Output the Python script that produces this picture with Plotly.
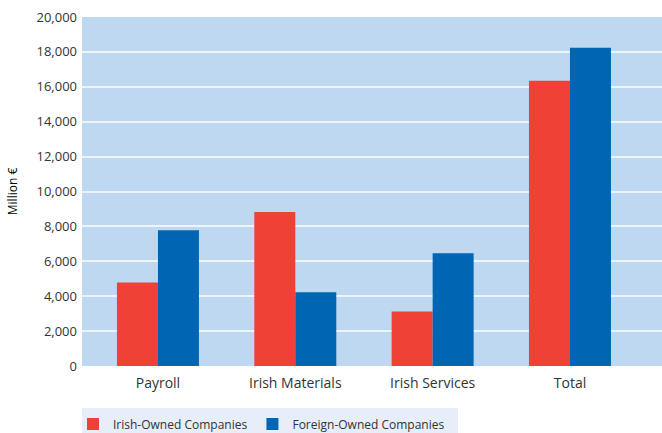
import plotly.graph_objects as go

categories = ["Payroll", "Irish Materials", "Irish Services", "Total"]
irish_owned = [4790, 8820, 3130, 16340]
foreign_owned = [7780, 4220, 6460, 18240]
y_ticks = [0, 2000, 4000, 6000, 8000, 10000, 12000, 14000, 16000, 18000, 20000]
series_names = ["Irish-Owned Companies", "Foreign-Owned Companies"]

RED = "#ef4136"
BLUE = "#0066b3"
FONT = "Open Sans"

fig = go.Figure()
fig.add_trace(go.Bar(x=categories, y=irish_owned, name=series_names[0],
                     marker=dict(color=RED, line=dict(width=0))))
fig.add_trace(go.Bar(x=categories, y=foreign_owned, name=series_names[1],
                     marker=dict(color=BLUE, line=dict(width=0))))

fig.update_layout(
    width=662, height=433,
    margin=dict(l=82, r=0, t=17, b=67, autoexpand=False),
    paper_bgcolor="white",
    plot_bgcolor="#bdd8f0",
    barmode="group",
    bargap=0.403, bargroupgap=0,
    font=dict(family=FONT, size=13, color="#333333"),
    showlegend=True,
    legend=dict(
        orientation="h",
        xref="container", x=73 / 662, xanchor="left",
        yref="container", y=1 - 424 / 433, yanchor="middle",
        bgcolor="rgba(0,0,0,0)",
        font=dict(family=FONT, size=12, color="#333333"),
        traceorder="normal",
    ),
    shapes=[dict(type="rect", xref="paper", yref="paper",
                 x0=0, x1=(458 - 82) / 580, y0=-67 / 349, y1=-42 / 349,
                 fillcolor="#e6eef9", line=dict(width=0), layer="below")],
)
fig.update_xaxes(
    range=[-0.553, 3.67], automargin=False,
    showgrid=False, zeroline=False, showline=False,
    ticks="", ticklabelstandoff=7,
    tickfont=dict(family=FONT, size=14, color="#333333"),
)
fig.update_yaxes(
    range=[0, 20000], automargin=False,
    tickvals=y_ticks, tickformat=",",
    showgrid=True, gridcolor="#eef4fb", gridwidth=2,
    zeroline=False, showline=False, ticks="", ticklabelstandoff=4,
    tickfont=dict(family=FONT, size=13, color="#333333"),
    title=dict(text="Million €", font=dict(family=FONT, size=12, color="#000000"), standoff=16),
)

fig.write_html(
    "out.html",
    config={"displayModeBar": False},
    post_script="document.body.style.margin='0';document.body.style.overflow='hidden';",
)
